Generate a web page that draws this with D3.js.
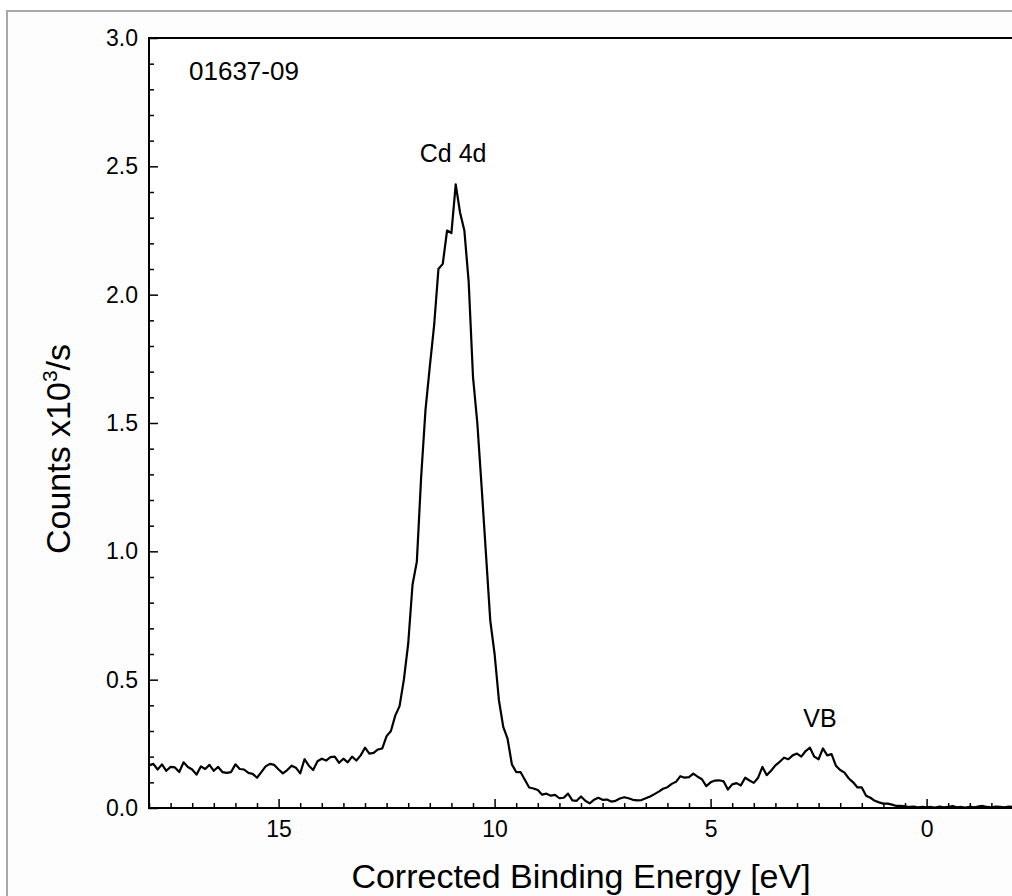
<!DOCTYPE html>
<html>
<head>
<meta charset="utf-8">
<script src="https://cdn.jsdelivr.net/npm/d3@7"></script>
<style>
  body { margin: 0; background: #fff; }
  text { font-family: "Liberation Sans", Arial, sans-serif; fill: #000; }
</style>
</head>
<body>
<div id="container"></div>
<script>
/* CONSTANTS AND GLOBALS */
const width = 1012,
  height = 896,
  margin = { top: 38, bottom: 88, left: 149, right: -1 }

// spectrum sampled every 0.1 eV, from 18.0 eV down to -2.0 eV
const eStart = 18, eStep = 0.1
const counts = [
  0.166, 0.172, 0.150, 0.170, 0.145, 0.160, 0.158, 0.140, 0.178, 0.160,
  0.150, 0.130, 0.162, 0.152, 0.168, 0.145, 0.160, 0.140, 0.137, 0.140,
  0.170, 0.152, 0.150, 0.137, 0.133, 0.118, 0.140, 0.162, 0.172, 0.168,
  0.150, 0.135, 0.148, 0.165, 0.157, 0.135, 0.190, 0.165, 0.148, 0.182,
  0.192, 0.185, 0.198, 0.200, 0.176, 0.192, 0.178, 0.200, 0.185, 0.205,
  0.235, 0.212, 0.215, 0.228, 0.232, 0.280, 0.300, 0.360, 0.397, 0.500,
  0.640, 0.870, 0.960, 1.290, 1.550, 1.720, 1.880, 2.100, 2.120, 2.250,
  2.240, 2.430, 2.320, 2.250, 2.050, 1.680, 1.500, 1.250, 0.990, 0.730,
  0.600, 0.420, 0.316, 0.270, 0.170, 0.140, 0.140, 0.110, 0.080, 0.076,
  0.070, 0.052, 0.056, 0.048, 0.051, 0.038, 0.040, 0.056, 0.030, 0.028,
  0.045, 0.028, 0.018, 0.032, 0.040, 0.032, 0.033, 0.025, 0.028, 0.037,
  0.042, 0.038, 0.032, 0.030, 0.031, 0.038, 0.045, 0.054, 0.064, 0.075,
  0.081, 0.094, 0.102, 0.124, 0.118, 0.120, 0.134, 0.122, 0.112, 0.085,
  0.100, 0.107, 0.108, 0.104, 0.072, 0.092, 0.097, 0.088, 0.118, 0.107,
  0.098, 0.118, 0.160, 0.128, 0.145, 0.166, 0.180, 0.196, 0.190, 0.205,
  0.212, 0.200, 0.222, 0.235, 0.200, 0.190, 0.232, 0.205, 0.210, 0.165,
  0.148, 0.138, 0.115, 0.100, 0.080, 0.080, 0.048, 0.040, 0.028, 0.022,
  0.017, 0.017, 0.013, 0.008, 0.008, 0.006, 0.004, 0.005, 0.003, 0.004,
  0.003, 0.004, 0.002, 0.006, 0.003, 0.004, 0.008, 0.003, 0.004, 0.002,
  0.005, 0.003, 0.006, 0.008, 0.004, 0.003, 0.005, 0.004, 0.003, 0.005,
  0.004
]

const xMajorTicks = [15, 10, 5, 0]
const yMajorTicks = [0, 0.5, 1.0, 1.5, 2.0, 2.5, 3.0]

const sampleLabel = "01637-09"
const peakLabels = [
  { text: "Cd 4d", e: 10.96, v: 2.517 },
  { text: "VB", e: 2.47, v: 0.316 }
]

const data = counts.map((v, i) => ({ e: eStart - i * eStep, v: v }))

/* SCALES */
const xScale = d3.scaleLinear()
  .domain([18, -2])
  .range([margin.left, width - margin.right])

const yScale = d3.scaleLinear()
  .domain([0, 3])
  .range([height - margin.bottom, margin.top])

/* SVG */
const svg = d3.select("#container")
  .append("svg")
  .attr("width", width)
  .attr("height", height)

// outer grey frame of the exported figure
svg.append("rect")
  .attr("x", 7).attr("y", 11)
  .attr("width", width).attr("height", height)
  .attr("fill", "#fdfdfd")
  .attr("stroke", "#a8a8a8")
  .attr("stroke-width", 2)

svg.append("rect")
  .attr("x", margin.left).attr("y", margin.top)
  .attr("width", xScale(-2) - margin.left)
  .attr("height", yScale(0) - margin.top)
  .attr("fill", "#fff")

/* AXES */
const minorX = d3.range(-2, 18.01, 0.5).filter(t => !xMajorTicks.includes(t))
const minorY = d3.range(0, 3.001, 0.1).map(t => +t.toFixed(1))
  .filter(t => !yMajorTicks.includes(t))

svg.append("g")
  .attr("transform", `translate(0, ${yScale(0)})`)
  .call(d3.axisBottom(xScale).tickValues(minorX).tickSize(-5).tickFormat(""))
  .call(g => g.select(".domain").remove())
  .call(g => g.selectAll("line").attr("stroke-width", 1.5))

const xAxisGroup = svg.append("g")
  .attr("class", "xAxis")
  .attr("transform", `translate(0, ${yScale(0)})`)
  .call(d3.axisBottom(xScale).tickValues(xMajorTicks).tickSize(-9).tickPadding(13).tickFormat(d3.format("d")))
  .call(g => g.select(".domain").remove())
  .call(g => g.selectAll("line").attr("stroke-width", 1.5))
  .call(g => g.selectAll("text").attr("font-size", 23).attr("font-family", null))

svg.append("g")
  .attr("transform", `translate(${margin.left}, 0)`)
  .call(d3.axisLeft(yScale).tickValues(minorY).tickSize(-5).tickFormat(""))
  .call(g => g.select(".domain").remove())
  .call(g => g.selectAll("line").attr("stroke-width", 1.5))

const yAxisGroup = svg.append("g")
  .attr("class", "yAxis")
  .attr("transform", `translate(${margin.left}, 0)`)
  .call(d3.axisLeft(yScale).tickValues(yMajorTicks).tickSize(-9).tickPadding(11).tickFormat(d3.format(".1f")))
  .call(g => g.select(".domain").remove())
  .call(g => g.selectAll("line").attr("stroke-width", 1.5))
  .call(g => g.selectAll("text").attr("font-size", 23).attr("font-family", null))

// plot frame
svg.append("rect")
  .attr("x", margin.left).attr("y", margin.top)
  .attr("width", xScale(-2) - margin.left)
  .attr("height", yScale(0) - margin.top)
  .attr("fill", "none")
  .attr("stroke", "#000")
  .attr("stroke-width", 2)

/* AXIS TITLES */
svg.append("text")
  .attr("x", (margin.left + width - margin.right) / 2)
  .attr("y", 888)
  .attr("text-anchor", "middle")
  .attr("font-size", 34)
  .text("Corrected Binding Energy [eV]")

const yLabel = svg.append("text")
  .attr("transform", `translate(70, 449) rotate(-90)`)
  .attr("text-anchor", "middle")
  .attr("font-size", 34)
yLabel.append("tspan").text("Counts x10")
yLabel.append("tspan").attr("font-size", 21).attr("dy", -13).text("3")
yLabel.append("tspan").attr("dy", 13).text("/s")

/* LINE */
const lineGen = d3.line()
  .x(d => xScale(d.e))
  .y(d => yScale(d.v))

svg.selectAll(".line")
  .data([data])
  .join("path")
  .attr("class", "line")
  .attr("d", d => lineGen(d))
  .attr("fill", "none")
  .attr("stroke", "#000")
  .attr("stroke-width", 2.2)
  .attr("stroke-linejoin", "round")

/* ANNOTATIONS */
svg.append("text")
  .attr("x", 189)
  .attr("y", 80)
  .attr("font-size", 26)
  .text(sampleLabel)

svg.selectAll(".peak")
  .data(peakLabels)
  .join("text")
  .attr("class", "peak")
  .attr("x", d => xScale(d.e))
  .attr("y", d => yScale(d.v))
  .attr("text-anchor", "middle")
  .attr("font-size", 25)
  .text(d => d.text)
</script>
</body>
</html>
